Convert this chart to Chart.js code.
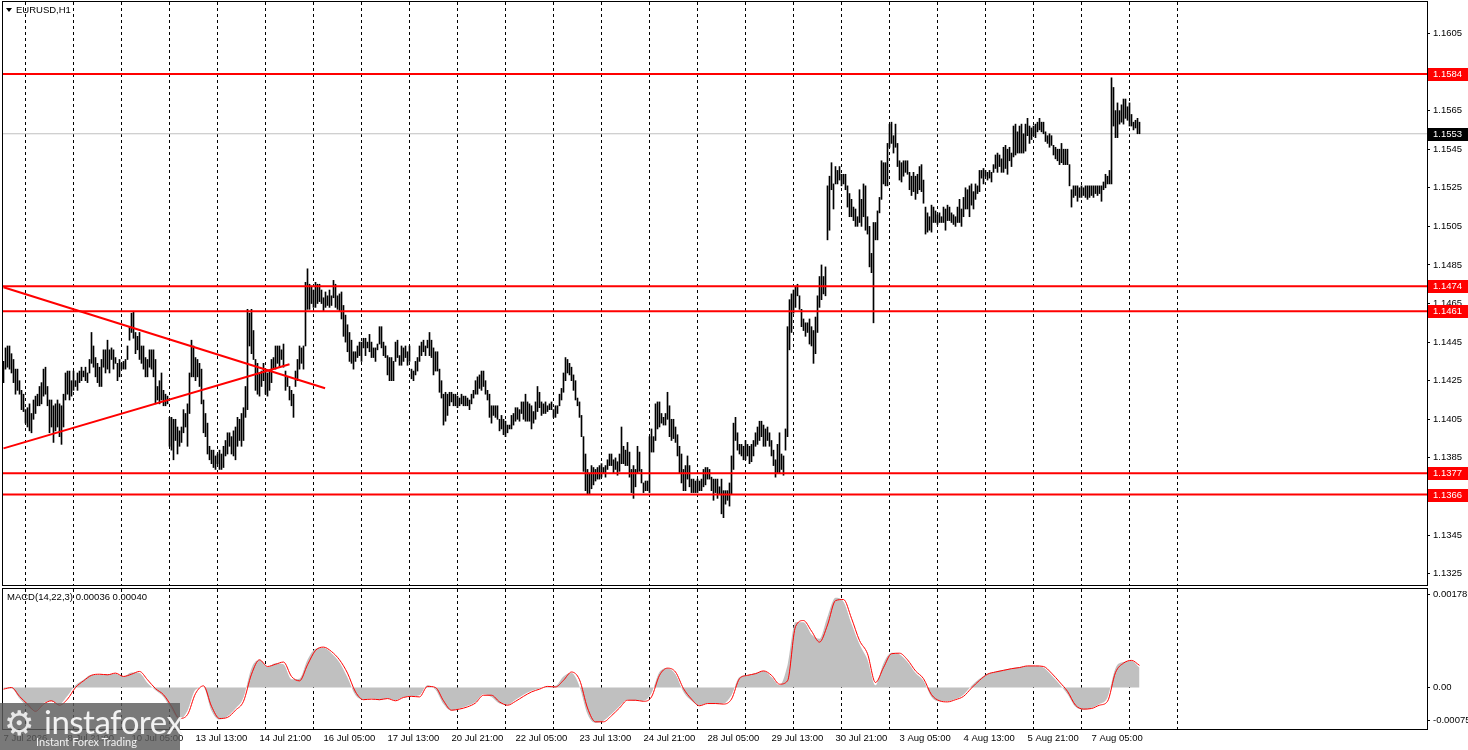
<!DOCTYPE html>
<html>
<head>
<meta charset="utf-8">
<title>EURUSD,H1</title>
<script src="https://cdn.jsdelivr.net/npm/chart.js@4.4.1/dist/chart.umd.min.js"></script>
<style>
  html, body { margin: 0; padding: 0; background: #fff; }
  #wrap { position: relative; width: 1468px; height: 750px; overflow: hidden; }
  canvas { position: absolute; left: 0; display: block; }
  #price { top: 0; }
  #macd { top: 587px; }
  #logo {
    position: absolute; left: 0; top: 703px; width: 180px; height: 47px;
    background: rgba(92, 92, 92, 0.82); color: #f2f2f2; font-family: Lato, "Open Sans", sans-serif;
  }
  #logo .gear { position: absolute; left: 4px; top: 0px; font: 34px "DejaVu Sans"; color: #e8e8e8; }
  #logo .name { position: absolute; left: 44px; top: -2px; font-size: 33px; letter-spacing: -0.5px; }
  #logo .tag { position: absolute; left: 36px; top: 32px; font-size: 11px; }
</style>
</head>
<body>
<div id="wrap">
  <canvas id="price" width="1468" height="587"></canvas>
  <canvas id="macd" width="1468" height="163"></canvas>
  <div id="logo"><span class="gear">⚙</span><span class="name">instaforex</span><span class="tag">Instant Forex Trading</span></div>
</div>
<script>
// bar values are pips above 1.1300, one entry per H1 bar
const BASE = 1.13;

const highs = [
  135,142,143,143,139,136,131,131,125,120, 118,110,111,113,108,115,117,118,122,124,
  131,132,122,115,115,112,113,115,113,112, 118,129,130,130,125,130,125,129,130,132,
  130,132,129,136,150,143,137,134,132,136, 141,141,146,141,142,141,137,134,136,134,
  135,136,143,153,160,161,150,148,150,143, 143,137,136,141,141,141,136,122,125,129,
  120,118,117,106,106,105,105,101,99,101, 110,108,113,129,146,143,137,136,134,131,
  115,108,103,91,89,89,86,87,89,87, 91,94,98,98,96,99,101,106,105,108,
  111,122,162,160,162,151,136,134,129,130, 134,130,129,130,136,137,143,143,143,141,
  144,130,127,122,120,118,130,136,143,142, 143,176,183,175,174,172,176,175,175,172,
  168,171,169,172,169,177,175,169,170,171, 164,159,154,150,146,140,140,143,145,145,
  147,147,145,149,145,142,142,144,153,153, 145,143,138,137,137,135,145,146,138,143,
  142,143,140,143,131,130,135,137,143,145, 146,143,146,150,146,142,140,140,131,125,
  118,119,118,119,119,118,118,117,116,118, 117,117,116,115,118,120,125,127,128,130,
  130,125,120,118,112,112,112,112,105,107, 105,104,102,102,107,108,111,111,110,114,
  114,118,114,113,112,109,114,122,119,114, 113,114,112,113,114,110,112,112,118,121,
  129,137,136,134,132,128,125,116,114,107, 96,87,79,77,81,80,79,80,81,82,
  80,81,84,87,87,84,85,83,87,101, 91,89,93,88,79,81,79,91,88,79,
  72,73,73,96,100,96,113,114,114,108, 106,108,119,112,105,105,101,97,91,87,
  79,81,86,81,74,74,73,74,73,74, 79,80,80,79,75,74,74,74,70,74,
  68,68,68,72,86,103,106,98,92,92, 91,94,92,91,92,94,98,101,104,104,
  102,100,101,98,94,89,84,92,98,87, 86,100,153,167,170,172,174,175,169,162,
  157,155,155,157,153,151,158,169,179,185, 179,184,226,231,238,227,236,234,236,232,
  232,232,226,222,219,215,214,210,224,219, 227,226,210,205,191,207,207,213,220,239,
  238,238,248,258,259,252,258,248,239,238, 239,239,239,233,231,233,231,232,236,237,
  229,215,212,210,216,215,213,211,212,210, 215,214,216,215,212,211,210,215,219,214,
  220,225,224,226,227,223,227,226,234,234, 235,234,233,234,233,237,242,243,242,240,
  246,247,245,246,243,257,258,254,257,258, 253,258,261,257,256,257,258,259,261,259,
  259,254,252,253,252,247,246,245,245,248, 245,245,245,237,224,226,226,226,225,226,
  225,226,226,226,226,226,226,226,226,226, 228,232,231,234,282,277,265,269,265,268,
  271,271,267,269,263,259,260,261,259
];

const lows = [
  124,131,132,131,129,124,118,120,118,110, 109,103,101,99,98,105,108,112,112,113,
  117,118,112,98,101,93,99,101,96,92, 101,115,118,115,117,120,122,120,124,125,
  127,125,124,129,134,132,127,124,122,122, 132,129,131,129,136,131,134,125,127,131,
  131,131,136,146,150,147,139,141,136,134, 131,127,127,132,131,127,113,115,113,115,
  112,112,113,91,89,84,94,87,91,93, 98,101,91,108,127,127,125,127,122,113,
  98,96,87,84,82,80,79,82,79,79, 80,86,87,91,87,86,84,91,94,91,
  94,106,110,143,139,136,120,118,117,122, 125,118,117,120,124,131,131,134,132,136,
  132,120,122,115,112,106,122,125,131,134, 131,143,162,162,165,163,163,165,166,165,
  161,163,164,163,164,168,163,162,161,157, 148,145,140,135,134,131,135,137,138,135,
  142,138,142,140,137,137,135,141,144,142, 138,137,128,125,125,125,135,137,133,133,
  135,137,133,135,126,125,128,130,135,138, 140,138,142,138,137,128,130,130,119,116,
  102,104,107,112,114,112,112,111,112,113, 112,112,112,110,113,116,118,118,121,120,
  122,118,115,106,103,107,106,105,99,100, 97,96,98,100,100,102,104,105,104,108,
  105,104,104,104,100,103,105,109,111,107, 108,108,109,110,110,106,106,108,112,115,
  119,125,129,128,125,120,115,112,106,96, 78,68,66,66,69,71,73,74,74,75,
  77,75,79,81,81,77,79,76,78,82, 82,81,81,75,67,64,70,77,78,72,
  67,68,68,67,88,88,94,100,101,103, 102,102,105,96,94,95,93,86,77,72,
  68,68,74,70,67,67,67,67,68,68, 70,71,74,74,68,63,67,64,66,56,
  54,61,63,60,66,79,94,89,87,86, 84,84,86,82,83,86,91,92,94,96,
  91,91,94,91,86,81,75,77,77,79, 76,89,96,141,150,160,163,169,162,153,
  151,148,150,144,143,134,139,150,163,167, 170,169,198,203,224,214,227,227,229,226,
  227,224,215,210,210,208,205,205,207,205, 210,203,201,184,181,155,198,198,212,219,
  227,226,226,246,248,243,246,236,229,228, 231,233,232,224,221,223,219,222,224,223,
  217,201,202,203,202,207,207,206,207,207, 207,203,208,208,207,206,205,207,207,205,
  210,214,214,210,216,214,219,222,223,230, 227,231,229,230,228,233,235,233,236,233,
  233,235,232,239,236,241,242,243,243,243, 243,244,252,248,250,252,251,254,255,254,
  253,249,248,246,247,242,240,239,237,238, 237,237,237,226,215,220,221,218,220,220,
  221,220,219,220,221,220,222,221,222,218, 224,225,227,227,227,257,251,251,258,259,
  258,261,260,257,257,255,256,253,253
];

// horizontal levels and the two hand drawn trend lines
const levels = [1.1584, 1.1474, 1.1461, 1.1377, 1.1366];
const bid = 1.1553;
const trendDown = [[0, 1.14734], [160.8, 1.14211]];
const trendUp = [[0, 1.13899], [143, 1.14335]];

const priceTicks = [1.1605, 1.1585, 1.1565, 1.1545, 1.1525, 1.1505, 1.1485, 1.1465,
                    1.1445, 1.1425, 1.1405, 1.1385, 1.1365, 1.1345, 1.1325];

// time axis, one label every 32 bars
const timeLabels = ['7 Jul 2026', '8 Jul 21:00', '10 Jul 05:00', '13 Jul 13:00', '14 Jul 21:00',
  '16 Jul 05:00', '17 Jul 13:00', '20 Jul 21:00', '22 Jul 05:00', '23 Jul 13:00', '24 Jul 21:00',
  '28 Jul 05:00', '29 Jul 13:00', '30 Jul 21:00', '3 Aug 05:00', '4 Aug 13:00', '5 Aug 21:00',
  '7 Aug 05:00'];
const LABEL_STEP = 32;

// MACD(14,22,3), read every 4th bar, units of 0.00001
const MACD_STEP = 4;
const macdMain = [
  -2,-2,-20,-35,-42,-28,-25,-30,-15,4, 14,23,23,24,25,20,27,26,8,-5,
  -17,-40,-58,-42,-4,0,-42,-58,-52,-38, -18,35,50,37,44,42,15,16,50,70,
  72,62,45,18,-14,-22,-20,-23,-20,-23, -17,-16,-14,4,-4,-30,-42,-38,-33,-26,
  -12,-17,-29,-31,-22,-13,-6,-2,2,3, 20,26,2,-48,-64,-60,-48,-34,-22,-24,
  -24,-10,28,35,24,-8,-24,-33,-28,-30, -29,-14,19,22,26,30,19,4,40,118,
  118,96,88,128,162,155,115,78,50,4, 44,63,60,46,26,12,-17,-25,-25,-21,
  -13,3,16,25,29,32,35,37,39,39, 36,22,6,-12,-35,-40,-37,-30,-18,35,
  46,48,36
];
const macdSignal = [
  -3,0,-16,-30,-43,-30,-24,-32,-21,0, 12,22,24,23,26,20,24,29,14,-2,
  -13,-34,-56,-49,-11,3,-34,-56,-54,-41, -25,24,50,38,42,46,20,12,41,67,
  73,65,50,26,-8,-22,-21,-22,-20,-24, -18,-16,-17,2,0,-24,-41,-39,-35,-28,
  -14,-14,-26,-32,-25,-16,-8,-3,2,1, 13,28,14,-37,-62,-62,-51,-37,-23,-23,
  -25,-17,22,35,28,-2,-21,-33,-29,-29, -30,-21,16,22,25,30,22,6,12,110,
  121,102,82,113,157,159,125,85,61,9, 36,61,62,50,30,16,-13,-24,-26,-22,
  -16,-1,13,24,28,31,34,36,39,39, 38,26,10,-7,-32,-39,-38,-32,-25,27,
  44,49,40
];
const macdAxis = [0.00178, 0.00, -0.00075];

// layout
const X_MIN = -0.25, X_MAX = 711.75;   // 2 px per bar
const AXIS_W = 41;
const FIRST_DAY_BAR = 11, LAST_GRID_BAR = 587;
const FONT = { family: 'Liberation Sans', size: 9.5 };
const FONT_CSS = '9.5px "Liberation Sans"';

const dayGrid = {
  id: 'dayGrid',
  beforeDatasetsDraw(chart) {
    const { ctx, chartArea: a, scales: { x } } = chart;
    ctx.save();
    ctx.strokeStyle = '#000';
    ctx.lineWidth = 1;
    ctx.setLineDash([3, 3]);
    for (let b = FIRST_DAY_BAR; b <= LAST_GRID_BAR; b += 24) {
      const px = Math.floor(x.getPixelForValue(b)) + 0.5;
      ctx.beginPath();
      ctx.moveTo(px, a.top);
      ctx.lineTo(px, a.bottom);
      ctx.stroke();
    }
    ctx.restore();
  }
};

const frame = {
  id: 'frame',
  afterDraw(chart) {
    const { ctx, chartArea: a } = chart;
    ctx.save();
    ctx.strokeStyle = '#000';
    ctx.lineWidth = 1;
    ctx.strokeRect(a.left - 0.5, a.top - 0.5, a.right - a.left + 1, a.bottom - a.top + 1);
    ctx.restore();
  }
};

const priceTags = {
  id: 'priceTags',
  afterDraw(chart) {
    const { ctx, chartArea: a, scales: { y } } = chart;
    ctx.save();
    ctx.font = FONT_CSS;
    ctx.textBaseline = 'middle';
    const tag = (v, bg) => {
      const py = Math.round(y.getPixelForValue(v));
      ctx.fillStyle = bg;
      ctx.fillRect(a.right + 1, py - 6, AXIS_W - 1, 13);
      ctx.fillStyle = '#fff';
      ctx.fillText(v.toFixed(4), a.right + 6, py + 0.5);
    };
    levels.forEach(v => tag(v, '#ff0000'));
    tag(bid, '#000');
    // symbol caption
    ctx.fillStyle = '#000';
    ctx.beginPath();
    ctx.moveTo(6, 8); ctx.lineTo(12, 8); ctx.lineTo(9, 12); ctx.closePath();
    ctx.fill();
    ctx.fillText('EURUSD,H1', 16, 10.5);
    ctx.restore();
  }
};

// the default label padding of a vertical axis would push the plot area in
const noPad = s => { s.width = AXIS_W; s.paddingTop = 0; s.paddingBottom = 0; };

const priceData = highs.map((h, i) => ({ x: i, y: [BASE + lows[i] / 1e4, BASE + h / 1e4] }));
const flat = v => [{ x: X_MIN, y: v }, { x: X_MAX, y: v }];
const seg = pts => pts.map(p => ({ x: p[0], y: p[1] }));

const lineDs = (data, color, width, order) => ({
  type: 'line', data, borderColor: color, borderWidth: width,
  pointRadius: 0, fill: false, tension: 0, order
});

new Chart(document.getElementById('price'), {
  type: 'bar',
  data: {
    datasets: [
      { type: 'bar', data: priceData, backgroundColor: '#000', borderWidth: 0,
        barThickness: 1, grouped: false, order: 3 },
      lineDs(flat(bid), '#c0c0c0', 1, 4),
      ...levels.map(v => lineDs(flat(v), '#ff0000', 2, 1)),
      lineDs(seg(trendDown), '#ff0000', 2, 1),
      lineDs(seg(trendUp), '#ff0000', 2, 1)
    ]
  },
  options: {
    responsive: false,
    animation: false,
    events: [],
    layout: { padding: { left: 3, top: 2, right: 0, bottom: 2 } },
    plugins: { legend: { display: false }, tooltip: { enabled: false } },
    scales: {
      x: { type: 'linear', min: X_MIN, max: X_MAX, offset: false, display: false },
      y: {
        position: 'right', min: 1.13191, max: 1.16213,
        afterFit: noPad,
        afterBuildTicks: s => { s.ticks = priceTicks.map(v => ({ value: v })); },
        ticks: { callback: v => v.toFixed(4), color: '#000', font: FONT, padding: 3, autoSkip: false },
        grid: { drawOnChartArea: false, drawTicks: true, tickLength: 3, color: '#000' },
        border: { display: false }
      }
    }
  },
  plugins: [dayGrid, frame, priceTags]
});

const macdLabels = {
  id: 'macdLabels',
  afterDraw(chart) {
    const { ctx, chartArea: a, scales: { y } } = chart;
    ctx.save();
    ctx.font = FONT_CSS;
    ctx.fillStyle = '#000';
    ctx.strokeStyle = '#000';
    ctx.textBaseline = 'middle';
    const shift = [5, 0, -9];
    macdAxis.forEach((v, k) => {
      const py = Math.round(y.getPixelForValue(v)) + shift[k];
      ctx.beginPath();
      ctx.moveTo(a.right, py + 0.5);
      ctx.lineTo(a.right + 3, py + 0.5);
      ctx.stroke();
      ctx.fillText(v === 0 ? '0.00' : v.toFixed(5), a.right + 6, py + 0.5);
    });
    ctx.fillText('MACD(14,22,3) 0.00036 0.00040', 7, a.top + 8);
    ctx.restore();
  }
};

const macdPoints = arr => arr.map((v, k) => ({ x: k * MACD_STEP, y: v / 1e5 }));

new Chart(document.getElementById('macd'), {
  type: 'line',
  data: {
    datasets: [
      { data: macdPoints(macdMain), fill: 'origin', backgroundColor: '#c0c0c0',
        borderWidth: 0, pointRadius: 0, cubicInterpolationMode: 'monotone', order: 2 },
      { data: macdPoints(macdSignal), fill: false, borderColor: '#ff0000', borderWidth: 1,
        pointRadius: 0, cubicInterpolationMode: 'monotone', order: 1 }
    ]
  },
  options: {
    responsive: false,
    animation: false,
    events: [],
    layout: { padding: { left: 3, top: 2, right: 0, bottom: 0 } },
    plugins: { legend: { display: false }, tooltip: { enabled: false } },
    scales: {
      x: {
        type: 'linear', min: X_MIN, max: X_MAX, offset: false,
        afterFit: s => { s.height = 21; s.paddingLeft = 0; s.paddingRight = 0; },
        afterBuildTicks: s => { s.ticks = timeLabels.map((t, k) => ({ value: k * LABEL_STEP })); },
        ticks: { align: 'start', maxRotation: 0, autoSkip: false, padding: 4, color: '#000', font: FONT,
                 callback: (v, i) => timeLabels[i] },
        grid: { drawOnChartArea: false, drawTicks: false },
        border: { display: false }
      },
      y: {
        position: 'right', min: -0.00075, max: 0.00178,
        afterFit: noPad,
        ticks: { display: false },
        grid: { display: false },
        border: { display: false }
      }
    }
  },
  plugins: [dayGrid, frame, macdLabels]
});
</script>
</body>
</html>
